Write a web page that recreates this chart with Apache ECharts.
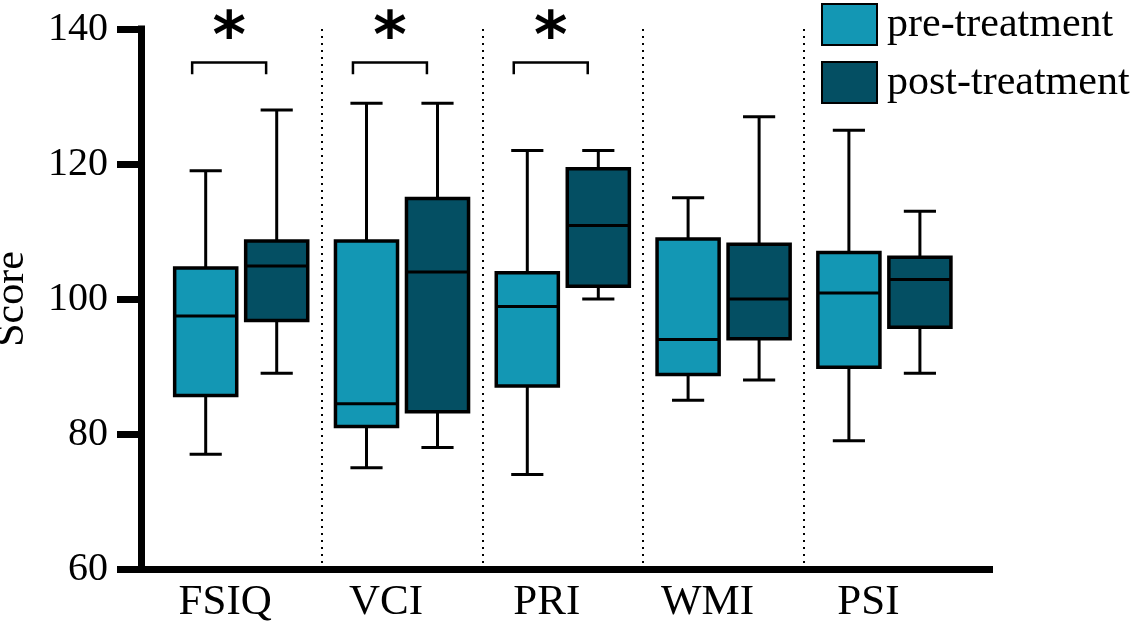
<!DOCTYPE html>
<html>
<head>
<meta charset="utf-8">
<title>Scores before and after treatment</title>
<script src="https://cdn.jsdelivr.net/npm/echarts@6/dist/echarts.min.js"></script>
<style>
  html, body { margin: 0; padding: 0; background: #fff; }
  #chart { width: 1140px; height: 632px; }
</style>
</head>
<body>
<div id="chart"></div>
<script>
// index subscales
const categories = ['FSIQ', 'VCI', 'PRI', 'WMI', 'PSI'];
// [min, Q1, median, Q3, max] per category
const preStats = [
    [77, 85.7, 97.5, 104.6, 119],
    [75, 81.1, 84.5, 108.6, 129],
    [74, 87.1, 98.9, 103.9, 122],
    [85, 88.8, 94.0, 108.9, 115],
    [79, 89.9, 100.9, 106.9, 125]
];
const postStats = [
    [89, 96.8, 104.9, 108.6, 128],
    [78, 83.3, 104.0, 114.9, 129],
    [100, 101.9, 110.9, 119.3, 122],
    [88, 94.1, 100.0, 108.1, 127],
    [89, 95.8, 102.9, 106.2, 113]
];
const significant = ['FSIQ', 'VCI', 'PRI'];
const yMin = 60, yMax = 140, yStep = 20;

const preColor = '#1397b4';
const postColor = '#044f63';
const serif = '"Liberation Serif", "Times New Roman", serif';

var chartDom = document.getElementById('chart');
var myChart = echarts.init(chartDom);

function boxRenderer(shift, fill) {
    return function (params, api) {
        const idx = api.value(0);
        const bw = api.size([1, 0])[0];
        const cx = api.coord([idx, api.value(3)])[0] + shift * bw;
        const y = [1, 2, 3, 4, 5].map(d => api.coord([idx, api.value(d)])[1]);
        const hw = 0.193 * bw;
        const cw = 0.1 * bw;
        const line = (x1, y1, x2, y2) => ({
            type: 'line',
            shape: { x1: x1, y1: y1, x2: x2, y2: y2 },
            style: { stroke: '#000', lineWidth: 3 }
        });
        return {
            type: 'group',
            children: [
                line(cx, y[4], cx, y[3]),
                line(cx, y[1], cx, y[0]),
                line(cx - cw, y[4], cx + cw, y[4]),
                line(cx - cw, y[0], cx + cw, y[0]),
                {
                    type: 'rect',
                    shape: { x: cx - hw, y: y[3], width: 2 * hw, height: y[1] - y[3] },
                    style: { fill: fill, stroke: '#000', lineWidth: 3.5 }
                },
                line(cx - hw, y[2], cx + hw, y[2])
            ]
        };
    };
}

function sigRenderer(params, api) {
    const idx = api.value(0);
    const bw = api.size([1, 0])[0];
    const cx = api.coord([idx, 135])[0] - 0.075 * bw;
    const hw = 0.23 * bw;
    const yTop = api.coord([idx, 135.05])[1];
    const yDrop = api.coord([idx, 133.3])[1];
    const yStar = api.coord([idx, 138.25])[1];
    return {
        type: 'group',
        children: [
            {
                type: 'polyline',
                shape: { points: [[cx - hw, yDrop], [cx - hw, yTop], [cx + hw, yTop], [cx + hw, yDrop]] },
                style: { stroke: '#000', lineWidth: 2.5, fill: null }
            },
            {
                type: 'text',
                style: {
                    text: '*', x: cx, y: yStar,
                    align: 'center', verticalAlign: 'middle',
                    font: 'bold 64px "DejaVu Sans", sans-serif', fill: '#000'
                }
            }
        ]
    };
}

var option = {
    animation: false,
    backgroundColor: '#fff',
    legend: {
        orient: 'vertical',
        left: 821,
        top: 3,
        padding: 0,
        itemWidth: 55,
        itemHeight: 41,
        itemGap: 15,
        icon: 'rect',
        textStyle: { fontFamily: serif, fontSize: 42, color: '#000', lineHeight: 36, padding: [0, 0, 0, 5] },
        data: [
            { name: 'pre-treatment', itemStyle: { color: preColor, borderColor: '#000', borderWidth: 2 } },
            { name: 'post-treatment', itemStyle: { color: postColor, borderColor: '#000', borderWidth: 2 } }
        ]
    },
    grid: [
        { left: 141, right: 150.5, top: 29, bottom: 63, containLabel: false, outerBoundsMode: 'none' },
        { left: 160.8, right: 175.2, top: 29, bottom: 63, containLabel: false, outerBoundsMode: 'none' }
    ],
    xAxis: [
        {
            gridIndex: 0, type: 'value', min: 0, max: 1,
            axisLine: { show: true, lineStyle: { color: '#000', width: 7, cap: 'square' } },
            axisTick: { show: false }, axisLabel: { show: false }, splitLine: { show: false }
        },
        {
            gridIndex: 1, type: 'category', data: categories,
            axisLine: { show: false }, axisTick: { show: false },
            axisLabel: { fontFamily: serif, fontSize: 43, color: '#000', margin: 12, padding: [0, 32, 0, 0] },
            splitLine: {
                show: true,
                lineStyle: {
                    color: ['rgba(0,0,0,0)', '#000', '#000', '#000', '#000', 'rgba(0,0,0,0)'],
                    type: [2, 5], width: 2
                }
            }
        }
    ],
    yAxis: [
        {
            gridIndex: 0, type: 'value', min: yMin, max: yMax, interval: yStep,
            name: 'Score', nameLocation: 'middle', nameGap: 108,
            nameTextStyle: { fontFamily: serif, fontSize: 42, color: '#000' },
            axisLine: { show: true, lineStyle: { color: '#000', width: 7, cap: 'square' } },
            axisTick: { show: true, length: 24, lineStyle: { color: '#000', width: 7 } },
            axisLabel: { fontFamily: serif, fontSize: 40, color: '#000', margin: 33 },
            splitLine: { show: false }
        },
        {
            gridIndex: 1, type: 'value', min: yMin, max: yMax, interval: yStep, show: false
        }
    ],
    series: [
        {
            name: 'pre-treatment', type: 'custom', xAxisIndex: 1, yAxisIndex: 1,
            itemStyle: { color: preColor },
            encode: { x: 0, y: [1, 2, 3, 4, 5] },
            renderItem: boxRenderer(-0.2208, preColor),
            data: preStats.map((s, i) => [i].concat(s))
        },
        {
            name: 'post-treatment', type: 'custom', xAxisIndex: 1, yAxisIndex: 1,
            itemStyle: { color: postColor },
            encode: { x: 0, y: [1, 2, 3, 4, 5] },
            renderItem: boxRenderer(0.2208, postColor),
            data: postStats.map((s, i) => [i].concat(s))
        },
        {
            name: 'significance', type: 'custom', xAxisIndex: 1, yAxisIndex: 1,
            clip: false, silent: true,
            encode: { x: 0, y: 1 },
            renderItem: sigRenderer,
            data: significant.map(n => [categories.indexOf(n), 135])
        }
    ]
};

option && myChart.setOption(option);

window.addEventListener('resize', function () {
    myChart.resize();
});
</script>
</body>
</html>
